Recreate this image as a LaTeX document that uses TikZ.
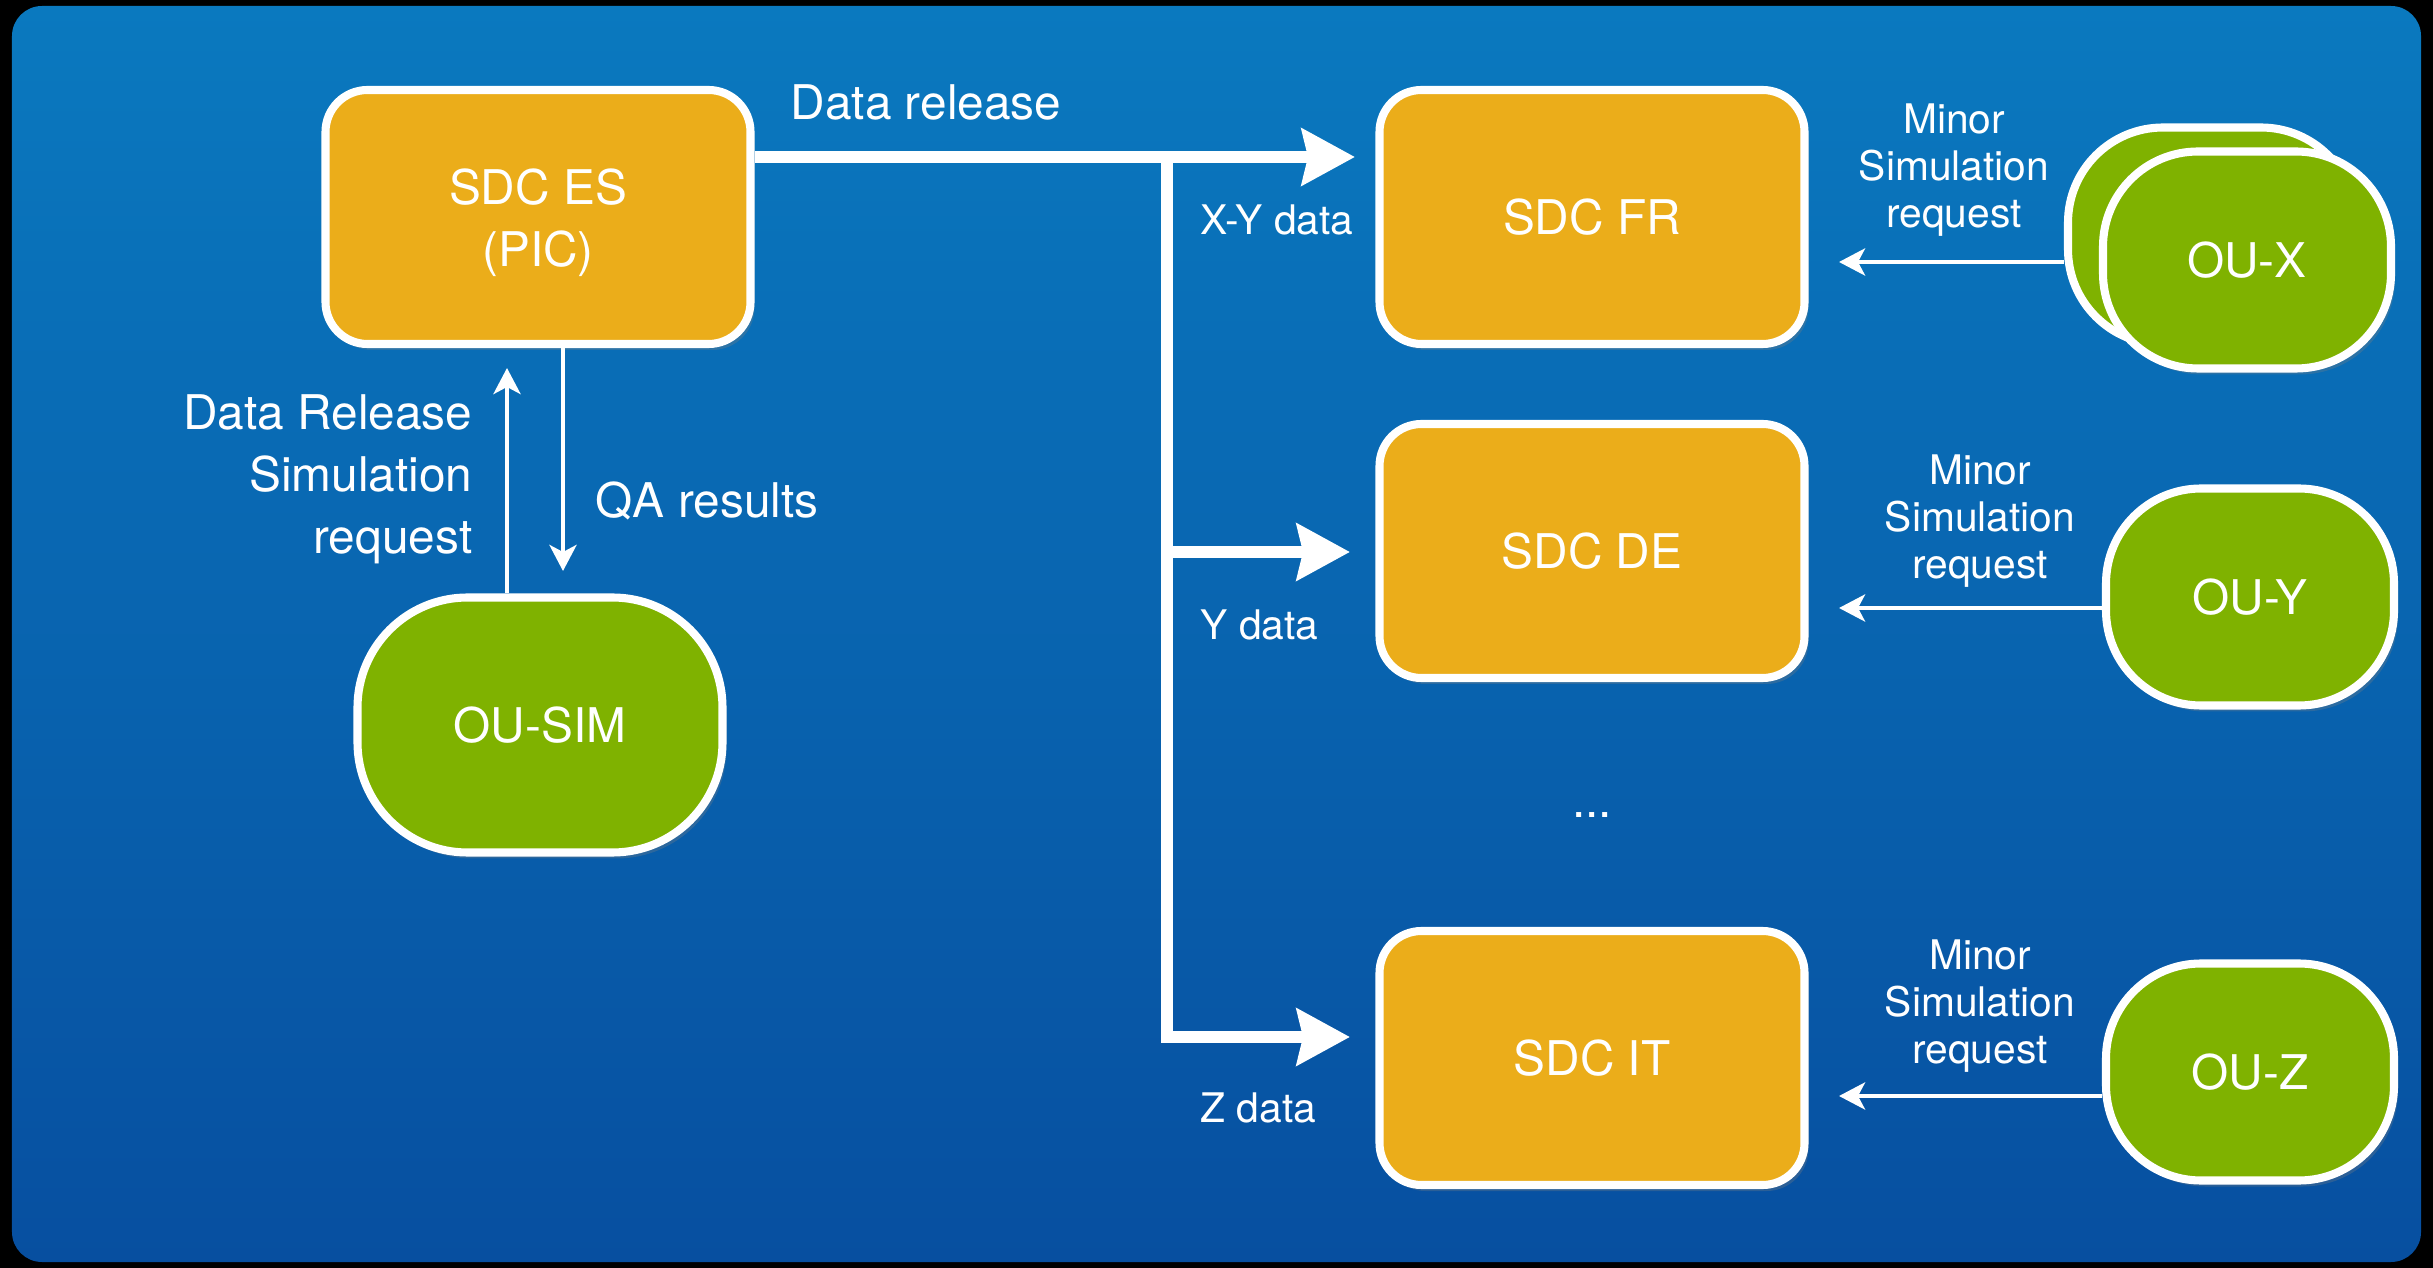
\documentclass[tikz,border=0pt]{standalone}
\usepackage{fontspec}
\setmainfont{TeX Gyre Heros}
\usetikzlibrary{arrows.meta,shadows}

\definecolor{sdcorange}{HTML}{EBAD1A}
\definecolor{ougreen}{HTML}{7FB200}
\definecolor{bgtop}{HTML}{0A79BF}
\definecolor{bgbottom}{HTML}{074FA0}

\newcommand\sdcfont{\fontsize{13.6}{17.6}\selectfont}
\newcommand\reqfont{\fontsize{11.6}{13.4}\selectfont}

\begin{document}
\begin{tikzpicture}[
  sdc/.style={draw=white, line width=2.3pt, fill=sdcorange, rounded corners=0.42cm,
    minimum width=4.25cm, minimum height=2.54cm, inner sep=0pt, text=white,
    align=center, font=\sdcfont,
    drop shadow={shadow xshift=0.04cm, shadow yshift=-0.06cm, opacity=0.3}},
  ou/.style={draw=white, line width=2.3pt, fill=ougreen, rounded corners=0.95cm,
    minimum width=2.88cm, minimum height=2.17cm, inner sep=0pt, text=white,
    font=\sdcfont,
    drop shadow={shadow xshift=0.04cm, shadow yshift=-0.06cm, opacity=0.3}},
  lbl/.style={text=white, font=\sdcfont, align=center},
  req/.style={text=white, font=\reqfont, align=center},
  thick arrow/.style={draw=white, line width=3.6pt,
    -{Stealth[length=0.53cm,width=0.56cm,inset=0.06cm]}},
  thin arrow/.style={draw=white, line width=1.3pt,
    -{Stealth[length=0.26cm,width=0.27cm,inset=0.07cm]}}
]
\useasboundingbox (0,0) rectangle (24.33,-12.68);
\fill[black] (0,0) rectangle (24.33,-12.68);
\shade[top color=bgtop, bottom color=bgbottom, rounded corners=0.3cm]
  (0.12,-0.06) rectangle (24.21,-12.62);

% data centres
\node[sdc] (es) at (5.38,-2.17) {\rule{0pt}{13.6pt}SDC ES\\(PIC)};
\node[sdc] (fr) at (15.92,-2.17) {SDC FR};
\node[sdc] (de) at (15.92,-5.51) {SDC DE};
\node[sdc] (it) at (15.92,-10.58) {SDC IT};
\node[lbl] (dots) at (15.92,-8.15) {...};

% organisation units
\node[ou, minimum width=3.65cm, minimum height=2.55cm, rounded corners=1.1cm] (sim) at (5.40,-7.25) {OU-SIM};
\node[ou] (oub) at (22.12,-2.36) {};
\node[ou] (oux) at (22.47,-2.60) {OU-X};
\node[ou] (ouy) at (22.50,-5.97) {OU-Y};
\node[ou] (ouz) at (22.50,-10.72) {OU-Z};

% arrow ends
\coordinate (split) at (11.67,-1.57);
\coordinate (frin) at (13.55,-1.57);
\coordinate (dein) at (13.50,-5.52);
\coordinate (itin) at (13.50,-10.37);
\coordinate (simup) at (5.07,-3.68);
\coordinate (simdown) at (5.63,-5.71);
\coordinate (frreq) at (18.39,-2.62);
\coordinate (dereq) at (18.39,-6.08);
\coordinate (itreq) at (18.39,-10.96);

% data release
\draw[thick arrow] (es.east |- frin) -- (frin);
\draw[thick arrow] (split) |- (itin);
\draw[thick arrow] (split |- dein) -- (dein);
\node[lbl] (rel) at (9.26,-1.02) {Data release};
\node[req, anchor=west, inner sep=0pt] (xy) at (12.0,-2.20) {X-Y data};
\node[req, anchor=west, inner sep=0pt] (yd) at (12.0,-6.25) {Y data};
\node[req, anchor=west, inner sep=0pt] (zd) at (12.0,-11.08) {Z data};

% simulation loop
\draw[thin arrow] (sim.north -| simup) -- (simup);
\draw[thin arrow] (es.south -| simdown) -- (simdown);
\node[lbl, anchor=east, align=right, inner sep=0pt] (drreq) at (4.73,-4.79) {Data Release\\Simulation\\request};
\node[lbl] (qa) at (7.07,-5.01) {QA results};

% minor requests
\draw[thin arrow] (oub.west |- frreq) -- (frreq);
\draw[thin arrow] (ouy.west |- dereq) -- (dereq);
\draw[thin arrow] (ouz.west |- itreq) -- (itreq);
\node[req] (xreq) at (19.54,-1.70) {Minor\\Simulation\\request};
\node[req] (yreq) at (19.80,-5.21) {Minor\\Simulation\\request};
\node[req] (zreq) at (19.80,-10.06) {Minor\\Simulation\\request};
\end{tikzpicture}
\end{document}
